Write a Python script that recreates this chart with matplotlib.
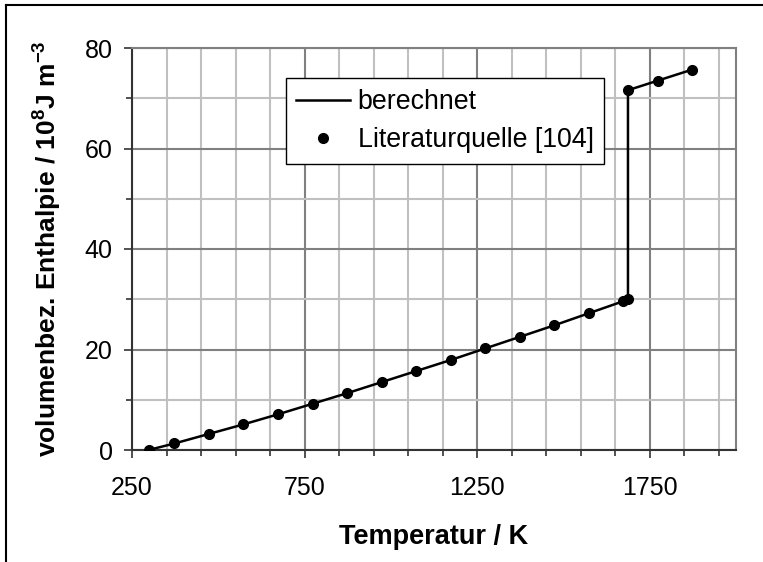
import matplotlib.pyplot as plt
from matplotlib.lines import Line2D
from matplotlib.ticker import MultipleLocator, FixedLocator

plt.rcParams['font.family'] = ['Liberation Sans', 'DejaVu Sans']
plt.rcParams['mathtext.fontset'] = 'custom'
plt.rcParams['mathtext.rm'] = 'Liberation Sans'
plt.rcParams['mathtext.bf'] = 'Liberation Sans:bold'

# Literaturwerte (Temperatur in K, volumenbez. Enthalpie in 1e8 J/m^3)
T_lit = [298, 373, 473, 573, 673, 773, 873, 973, 1073, 1173, 1273, 1373,
         1473, 1573, 1673, 1687, 1687, 1773, 1873]
H_lit = [0.0, 1.3, 3.2, 5.1, 7.1, 9.2, 11.3, 13.5, 15.7, 17.9, 20.2, 22.5,
         24.8, 27.2, 29.6, 30.0, 71.6, 73.5, 75.7]

# berechnete Kurve
T_calc = [298, 373, 473, 573, 673, 773, 873, 973, 1073, 1173, 1273, 1373,
          1473, 1573, 1673, 1687, 1687, 1773, 1873]
H_calc = [0.0, 1.3, 3.2, 5.1, 7.1, 9.2, 11.3, 13.5, 15.7, 17.9, 20.2, 22.5,
          24.8, 27.2, 29.6, 30.0, 71.6, 73.5, 75.7]

x_major = [250, 750, 1250, 1750]
x_minor = [350, 450, 550, 650, 850, 950, 1050, 1150, 1350, 1450, 1550, 1650, 1850, 1950]

fig = plt.figure(figsize=(7.63, 5.62), dpi=100)
ax = fig.add_axes([132 / 763, 1 - 450 / 562, 604 / 763, 402 / 562])

ax.plot(T_calc, H_calc, color='black', lw=1.8, label='berechnet', zorder=3)
ax.plot(T_lit, H_lit, 'o', color='black', ms=7, label='Literaturquelle [104]', zorder=4)

ax.set_xlim(250, 2000)
ax.set_ylim(0, 80)
ax.xaxis.set_major_locator(FixedLocator(x_major))
ax.xaxis.set_minor_locator(FixedLocator(x_minor))
ax.yaxis.set_major_locator(MultipleLocator(20))
ax.yaxis.set_minor_locator(MultipleLocator(10))

ax.grid(which='minor', color='#c0c0c0', lw=1.5, zorder=0)
ax.grid(which='major', color='#808080', lw=1.5, zorder=1)
ax.set_axisbelow(True)

for s in ['top', 'right']:
    ax.spines[s].set_color('#808080')
    ax.spines[s].set_linewidth(1.5)
for s in ['left', 'bottom']:
    ax.spines[s].set_color('#333333')
    ax.spines[s].set_linewidth(1.5)

ax.tick_params(which='major', length=6, width=1.2, color='#333333', labelsize=18)
ax.tick_params(which='minor', length=4, width=1.2, color='#333333')
ax.tick_params(axis='x', which='major', pad=13)
ax.tick_params(axis='y', which='major', pad=8)

ax.set_xlabel('Temperatur / K', fontsize=19.5, fontweight='bold', va='baseline')
ax.xaxis.set_label_coords(0.5, -0.234)
ax.set_ylabel(r'volumenbez. Enthalpie / 10$^{\mathbf{8}}$J m$^{\mathbf{-3}}$',
              fontsize=19, fontweight='bold', va='center')
ax.yaxis.set_label_coords(-0.141, 0.5)

leg = ax.legend(loc='upper left', bbox_to_anchor=(0.2545, 0.9246), fontsize=19.3,
                frameon=True, fancybox=False, edgecolor='black', framealpha=1,
                numpoints=1, handlelength=2.0, handletextpad=0.28,
                borderpad=0.4, labelspacing=0.45, borderaxespad=0)
leg.get_frame().set_linewidth(1.0)

# Rahmen des Diagrammbereichs (oben und links)
fig.add_artist(Line2D([6 / 763, 1], [1 - 5 / 562, 1 - 5 / 562], color='black', lw=1.5))
fig.add_artist(Line2D([6 / 763, 6 / 763], [0, 1 - 5 / 562], color='black', lw=1.5))

fig.savefig('out.png', dpi=100)
